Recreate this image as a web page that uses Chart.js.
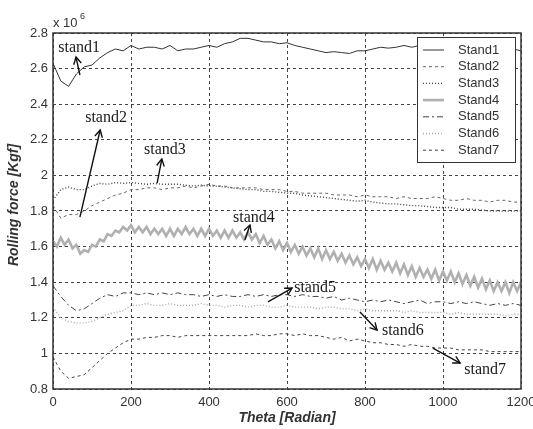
<!DOCTYPE html>
<html><head><meta charset="utf-8">
<script src="https://cdn.jsdelivr.net/npm/chart.js@4.4.0/dist/chart.umd.min.js"></script>
<style>html,body{margin:0;padding:0;background:#fff}#wrap{width:533px;height:429px}</style>
</head><body><div id="wrap"><canvas id="c" width="533" height="429"></canvas></div>
<script>
const theta20 = [0,20,40,60,80,100,120,140,160,180,200,220,240,260,280,300,320,340,360,380,400,420,440,460,480,500,520,540,560,580,600,620,640,660,680,700,720,740,760,780,800,820,840,860,880,900,920,940,960,980,1000,1020,1040,1060,1080,1100,1120,1140,1160,1180,1200];
const theta10 = [0,10,20,30,40,50,60,70,80,90,100,110,120,130,140,150,160,170,180,190,200,210,220,230,240,250,260,270,280,290,300,310,320,330,340,350,360,370,380,390,400,410,420,430,440,450,460,470,480,490,500,510,520,530,540,550,560,570,580,590,600,610,620,630,640,650,660,670,680,690,700,710,720,730,740,750,760,770,780,790,800,810,820,830,840,850,860,870,880,890,900,910,920,930,940,950,960,970,980,990,1000,1010,1020,1030,1040,1050,1060,1070,1080,1090,1100,1110,1120,1130,1140,1150,1160,1170,1180,1190,1200];

const stand1 = [2.63,2.53,2.50,2.57,2.61,2.62,2.66,2.69,2.71,2.70,2.73,2.71,2.72,2.72,2.71,2.73,2.70,2.71,2.71,2.72,2.73,2.72,2.74,2.75,2.77,2.77,2.76,2.75,2.75,2.74,2.745,2.73,2.72,2.71,2.70,2.69,2.695,2.69,2.685,2.70,2.70,2.71,2.72,2.715,2.72,2.73,2.72,2.73,2.72,2.73,2.73,2.72,2.74,2.73,2.72,2.73,2.72,2.73,2.72,2.71,2.70];
const stand2 = [1.83,1.76,1.78,1.78,1.80,1.83,1.85,1.87,1.89,1.90,1.92,1.92,1.93,1.93,1.92,1.93,1.93,1.94,1.93,1.94,1.95,1.94,1.94,1.93,1.93,1.93,1.93,1.92,1.92,1.92,1.91,1.91,1.90,1.90,1.90,1.90,1.89,1.89,1.89,1.88,1.89,1.88,1.88,1.88,1.87,1.88,1.87,1.87,1.87,1.88,1.87,1.86,1.86,1.87,1.86,1.86,1.85,1.86,1.86,1.85,1.85];
const stand3 = [1.86,1.92,1.935,1.92,1.92,1.94,1.955,1.95,1.96,1.955,1.96,1.955,1.95,1.955,1.95,1.95,1.95,1.945,1.94,1.945,1.94,1.94,1.935,1.93,1.925,1.92,1.92,1.91,1.91,1.905,1.90,1.90,1.89,1.885,1.88,1.875,1.87,1.865,1.86,1.855,1.86,1.85,1.845,1.84,1.84,1.835,1.83,1.83,1.825,1.82,1.82,1.82,1.81,1.81,1.81,1.805,1.80,1.80,1.80,1.80,1.80];
const stand4 = [1.63,1.60,1.65,1.61,1.64,1.59,1.61,1.56,1.58,1.57,1.61,1.60,1.64,1.63,1.67,1.66,1.69,1.68,1.71,1.69,1.72,1.68,1.71,1.68,1.71,1.67,1.70,1.67,1.70,1.66,1.70,1.66,1.70,1.67,1.71,1.67,1.70,1.66,1.70,1.66,1.70,1.66,1.69,1.65,1.69,1.65,1.69,1.65,1.68,1.64,1.68,1.64,1.67,1.62,1.66,1.61,1.64,1.59,1.63,1.58,1.62,1.57,1.61,1.56,1.60,1.55,1.59,1.54,1.59,1.53,1.58,1.53,1.57,1.52,1.56,1.51,1.55,1.50,1.54,1.49,1.53,1.48,1.53,1.47,1.52,1.47,1.51,1.46,1.51,1.45,1.50,1.44,1.49,1.43,1.48,1.43,1.47,1.42,1.47,1.41,1.46,1.41,1.46,1.40,1.45,1.39,1.44,1.38,1.43,1.37,1.42,1.36,1.41,1.35,1.40,1.35,1.40,1.34,1.40,1.35,1.40];
const stand5 = [1.38,1.32,1.27,1.24,1.25,1.28,1.31,1.33,1.32,1.34,1.34,1.33,1.34,1.33,1.34,1.33,1.34,1.33,1.33,1.32,1.33,1.32,1.33,1.32,1.32,1.33,1.32,1.33,1.32,1.33,1.33,1.32,1.33,1.32,1.32,1.31,1.32,1.30,1.31,1.30,1.29,1.30,1.29,1.30,1.29,1.28,1.29,1.30,1.28,1.29,1.29,1.28,1.29,1.28,1.29,1.28,1.27,1.28,1.27,1.28,1.27];
const stand6 = [1.26,1.20,1.18,1.17,1.17,1.18,1.20,1.22,1.23,1.24,1.27,1.27,1.28,1.27,1.27,1.28,1.27,1.27,1.27,1.28,1.27,1.27,1.26,1.27,1.27,1.26,1.27,1.27,1.26,1.26,1.27,1.26,1.26,1.26,1.25,1.26,1.26,1.25,1.25,1.24,1.25,1.24,1.24,1.24,1.24,1.23,1.24,1.23,1.23,1.23,1.23,1.22,1.23,1.22,1.22,1.22,1.22,1.22,1.21,1.22,1.22];
const stand7 = [0.98,0.90,0.86,0.87,0.88,0.92,0.96,1.00,1.03,1.06,1.08,1.08,1.09,1.09,1.10,1.10,1.09,1.10,1.10,1.10,1.10,1.10,1.10,1.10,1.10,1.10,1.11,1.10,1.10,1.11,1.11,1.10,1.11,1.10,1.10,1.09,1.08,1.09,1.07,1.08,1.07,1.06,1.06,1.05,1.05,1.04,1.05,1.04,1.04,1.03,1.03,1.03,1.02,1.02,1.02,1.02,1.01,1.01,1.01,1.01,1.01];

const seriesNames = ['Stand1','Stand2','Stand3','Stand4','Stand5','Stand6','Stand7'];
const xTicks = [0,200,400,600,800,1000,1200];
const yTicks = [0.8,1,1.2,1.4,1.6,1.8,2,2.2,2.4,2.6,2.8];

// annotation text + arrows in data coordinates
const notes = [
  {text:'stand1', x:67,  y:2.716, from:[69,2.564],  to:[59,2.665]},
  {text:'stand2', x:136, y:2.322, from:[69,1.766],  to:[121,2.255]},
  {text:'stand3', x:287, y:2.143, from:[267,1.957], to:[279,2.092]},
  {text:'stand4', x:515, y:1.761, from:[492,1.637], to:[505,1.721]},
  {text:'stand5', x:672, y:1.367, from:[551,1.289], to:[613,1.367]},
  {text:'stand6', x:897, y:1.126, from:[787,1.233], to:[831,1.131]},
  {text:'stand7', x:1108,y:0.907, from:[974,1.03],  to:[1044,0.946]}
];

const styles = [
  {color:'#333333', width:1,   dash:[]},
  {color:'#666666', width:1,   dash:[3,3]},
  {color:'#444444', width:1.4, dash:[1,2]},
  {color:'#b0b0b0', width:2.6, dash:[]},
  {color:'#444444', width:1,   dash:[6,3,2,3]},
  {color:'#a8a8a8', width:1.4, dash:[1,2]},
  {color:'#444444', width:1,   dash:[3,3]}
];
const xsFor = [theta20,theta20,theta20,theta10,theta20,theta20,theta20];
const ysFor = [stand1,stand2,stand3,stand4,stand5,stand6,stand7];

const datasets = seriesNames.map((n,i)=>({
  label:n,
  data: xsFor[i].map((x,k)=>({x:x,y:ysFor[i][k]})),
  borderColor: styles[i].color,
  borderWidth: styles[i].width,
  borderDash: styles[i].dash,
  pointRadius:0, tension:0, fill:false
}));

const FONT = '"Liberation Sans", Arial, sans-serif';

const decor = {
  id:'decor',
  afterDraw(chart){
    const {ctx, chartArea:a, scales:{x,y}} = chart;
    ctx.save();
    // frame
    ctx.strokeStyle='#333'; ctx.lineWidth=1.5; ctx.setLineDash([]);
    ctx.strokeRect(a.left, a.top, a.right-a.left, a.bottom-a.top);
    // annotations
    ctx.fillStyle='#1a1a1a'; ctx.strokeStyle='#111'; ctx.lineWidth=1.4;
    ctx.font='16px "Liberation Serif", "Times New Roman", serif';
    ctx.textAlign='center'; ctx.textBaseline='middle';
    notes.forEach(n=>{
      ctx.fillText(n.text, x.getPixelForValue(n.x), y.getPixelForValue(n.y));
      const x0=x.getPixelForValue(n.from[0]), y0=y.getPixelForValue(n.from[1]);
      const x1=x.getPixelForValue(n.to[0]), y1=y.getPixelForValue(n.to[1]);
      ctx.beginPath(); ctx.moveTo(x0,y0); ctx.lineTo(x1,y1); ctx.stroke();
      const ang=Math.atan2(y1-y0,x1-x0), L=8, h=0.5;
      ctx.beginPath();
      ctx.moveTo(x1-L*Math.cos(ang-h), y1-L*Math.sin(ang-h));
      ctx.lineTo(x1,y1);
      ctx.lineTo(x1-L*Math.cos(ang+h), y1-L*Math.sin(ang+h));
      ctx.stroke();
    });
    // legend
    const lx=417, ly=37, lw=98, lh=125;
    ctx.fillStyle='#fff'; ctx.fillRect(lx,ly,lw,lh);
    ctx.strokeStyle='#333'; ctx.lineWidth=1; ctx.strokeRect(lx+0.5,ly+0.5,lw,lh);
    ctx.font='13px '+FONT; ctx.textAlign='left'; ctx.textBaseline='middle';
    seriesNames.forEach((n,i)=>{
      const ry = ly+13 + i*16.7;
      ctx.strokeStyle=styles[i].color; ctx.lineWidth=styles[i].width; ctx.setLineDash(styles[i].dash);
      ctx.beginPath(); ctx.moveTo(lx+6,ry); ctx.lineTo(lx+27,ry); ctx.stroke();
      ctx.setLineDash([]);
      ctx.fillStyle='#333'; ctx.fillText(n, lx+41, ry);
    });
    // exponent
    ctx.fillStyle='#333'; ctx.font='13px '+FONT; ctx.textBaseline='alphabetic';
    ctx.fillText('x 10', 53, 27);
    ctx.font='9px '+FONT; ctx.fillText('6', 80, 19);
    // axis titles
    ctx.font='bold italic 14px '+FONT; ctx.textAlign='center'; ctx.textBaseline='middle';
    ctx.fillText('Theta [Radian]', (a.left+a.right)/2, 418);
    ctx.save(); ctx.translate(14, 205); ctx.rotate(-Math.PI/2);
    ctx.fillText('Rolling force [Kgf]', 0, 0); ctx.restore();
    ctx.restore();
  }
};

new Chart(document.getElementById('c'), {
  type:'line',
  data:{datasets},
  options:{
    responsive:false, animation:false, devicePixelRatio:1,
    layout:{padding:{top:33,right:12,left:0,bottom:0}},
    plugins:{legend:{display:false}, tooltip:{enabled:false}},
    scales:{
      x:{type:'linear', min:0, max:1200,
        afterBuildTicks(s){ s.ticks = xTicks.map(v=>({value:v})); },
        afterFit(s){ s.height=40; s.paddingLeft=0; s.paddingRight=0; },
        grid:{color:'#444', lineWidth:1, drawTicks:false},
        border:{display:false, dash:[3,3]},
        ticks:{padding:6, color:'#333', font:{family:FONT, size:13}, maxRotation:0, autoSkip:false,
          callback:v=>String(v)}
      },
      y:{type:'linear', min:0.8, max:2.8,
        afterBuildTicks(s){ s.ticks = yTicks.map(v=>({value:v})); },
        afterFit(s){ s.width=53; s.paddingTop=0; s.paddingBottom=0; },
        grid:{color:'#444', lineWidth:1, drawTicks:false},
        border:{display:false, dash:[3,3]},
        ticks:{padding:5, color:'#333', font:{family:FONT, size:13}, autoSkip:false,
          callback:v=>String(Math.round(v*10)/10)}
      }
    }
  },
  plugins:[decor]
});
</script>
</body></html>
